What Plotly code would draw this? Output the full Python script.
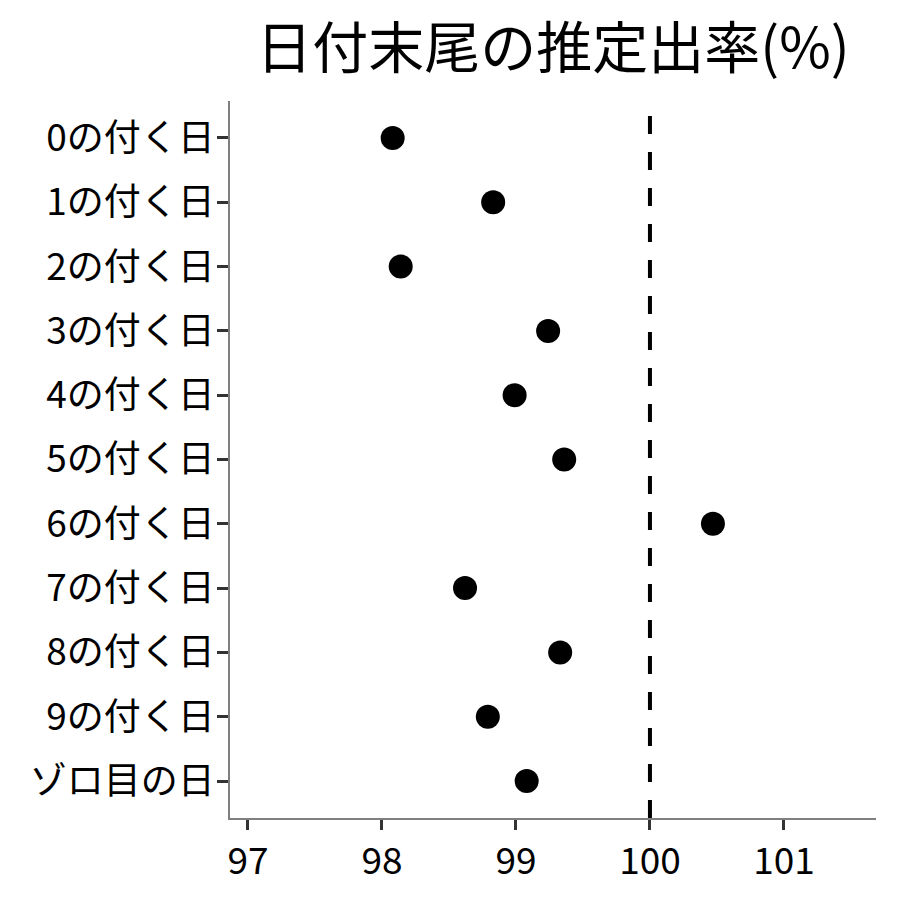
import plotly.graph_objects as go

# 日付末尾ごとの推定出率
labels = ["0の付く日", "1の付く日", "2の付く日", "3の付く日", "4の付く日",
          "5の付く日", "6の付く日", "7の付く日", "8の付く日", "9の付く日", "ゾロ目の日"]
rates = [98.08, 98.83, 98.14, 99.24, 98.99, 99.36, 100.47, 98.62, 99.33, 98.79, 99.08]
x_ticks = [97, 98, 99, 100, 101]
ref_rate = 100

FONT = "Noto Sans CJK JP"

fig = go.Figure()

fig.add_trace(
    go.Scatter(
        x=rates,
        y=labels,
        mode="markers",
        marker={"color": "black", "size": 24},
        showlegend=False,
    )
)

fig.add_vline(x=ref_rate, line={"color": "black", "width": 4, "dash": "18px,18px"})

# the page puts the figure 8px in from the top-left corner
fig.update_layout(
    width=900,
    height=900,
    margin={"l": 222, "r": 32, "t": 93, "b": 90},
    paper_bgcolor="white",
    plot_bgcolor="white",
    font={"family": FONT, "color": "black", "size": 37},
    title={
        "text": "日付末尾の推定出率(%)",
        "font": {"family": FONT, "size": 56, "color": "black"},
        "x": 545 / 900,
        "xanchor": "center",
        "y": 1 - 40 / 900,
        "yanchor": "middle",
    },
    xaxis={
        "range": [96.866, 101.687],
        "tickvals": x_ticks,
        "ticks": "outside",
        "ticklen": 10,
        "tickwidth": 3,
        "tickcolor": "#333333",
        "showline": True,
        "linecolor": "#7f7f7f",
        "linewidth": 1.5,
        "showgrid": False,
        "zeroline": False,
        "tickfont": {"size": 37, "color": "black"},
    },
    yaxis={
        "type": "category",
        "categoryorder": "array",
        "categoryarray": labels,
        "range": [10.575, -0.575],
        "ticks": "outside",
        "ticklen": 11,
        "tickwidth": 3,
        "tickcolor": "#333333",
        "ticklabelstandoff": -5,
        "showline": True,
        "linecolor": "#7f7f7f",
        "linewidth": 1.5,
        "showgrid": False,
        "zeroline": False,
        "tickfont": {"size": 37, "color": "black"},
    },
)

fig.write_html("out.html")
